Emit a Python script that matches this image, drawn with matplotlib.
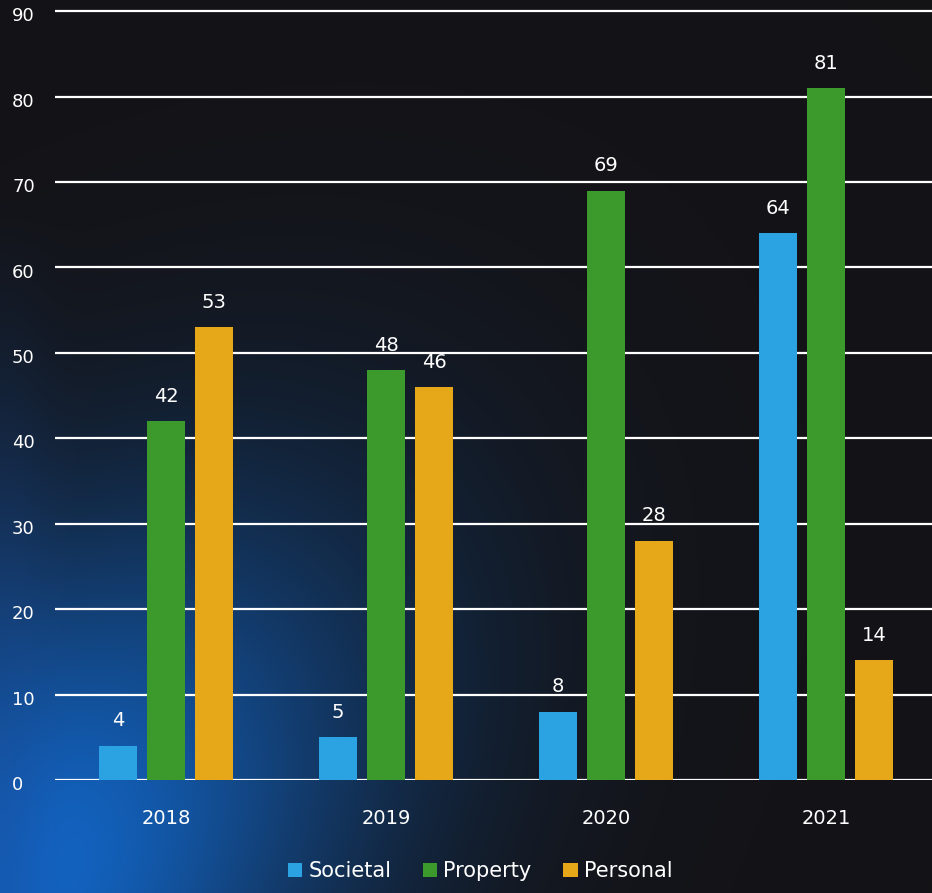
import numpy as np
import matplotlib
matplotlib.use("Agg")
import matplotlib.pyplot as plt
import matplotlib.transforms as mtransforms

# Data
years = ["2018", "2019", "2020", "2021"]
societal = [4, 5, 8, 64]
property_ = [42, 48, 69, 81]
personal = [53, 46, 28, 14]
series_names = ["Societal", "Property", "Personal"]
colors = ["#2ba2e2", "#3b9a2b", "#e6a818"]
yticks = list(range(0, 91, 10))

W, H = 932, 893
fig = plt.figure(figsize=(W / 100, H / 100), dpi=100)

# Background: dark with blue glow in the lower left
bg = fig.add_axes([0, 0, 1, 1], zorder=-10)
yy, xx = np.mgrid[0:H, 0:W]
u = xx + (H - yy)          # along the diagonal from bottom-left
v = xx - (H - yy)          # across the diagonal
d = np.sqrt((u / 1.6) ** 2 + (v / 1.0) ** 2)
glow = np.exp(-(d / 380.0) ** 2)
base = np.array([0.075, 0.075, 0.09])
blue = np.array([0.07, 0.40, 0.78])
img = base * (1 - glow[..., None]) + blue * glow[..., None]
left_edge = np.exp(-(xx / 50.0) ** 2) * np.clip((yy - 200) / 600.0, 0, 1) * 0.45
img = img * (1 - left_edge[..., None]) + np.array([0.1, 0.3, 0.6]) * left_edge[..., None]
bg.imshow(np.clip(img, 0, 1), extent=[0, 1, 0, 1], aspect="auto", origin="upper")
bg.axis("off")

ax = fig.add_axes([55 / W, 113 / H, 1 - 55 / W, (884 - 113) / H])
ax.patch.set_alpha(0)

x = np.arange(len(years))
offset = 0.218
width = 0.173
for i, (vals, name, col) in enumerate(zip([societal, property_, personal], series_names, colors)):
    bars = ax.bar(x + (i - 1) * offset, vals, width, color=col, label=name, zorder=3)
    for b, val in zip(bars, vals):
        ax.text(b.get_x() + b.get_width() / 2, val + 1.8, str(val), ha="center", va="bottom",
                color="white", fontsize=14, zorder=4)

ax.set_ylim(0, 90.25)
ax.set_xlim(-0.505, 3.48)
ax.set_yticks(yticks)
ax.set_yticklabels([])
ax.yaxis.grid(True, color="white", linewidth=1.6, zorder=1)
ax.set_axisbelow(True)
for s in ax.spines.values():
    s.set_visible(False)
ax.tick_params(axis="both", length=0, colors="white", labelsize=14)
ax.tick_params(axis="x", pad=21)
ax.set_xticks(x)
ax.set_xticklabels(years)

# y tick labels placed near the left edge of the figure
trans = mtransforms.blended_transform_factory(fig.transFigure, ax.transData)
for t in yticks:
    ax.text(12 / W, t - 0.6, str(t), transform=trans, ha="left", va="center",
            color="white", fontsize=13, clip_on=False)

fig.legend(loc="lower center", bbox_to_anchor=(480 / W, -0.008), ncol=3, frameon=False,
           fontsize=15, handlelength=0.7, handleheight=0.7, handletextpad=0.3,
           columnspacing=1.5, labelcolor="white")

fig.savefig("out.png", dpi=100, facecolor="#131317")
